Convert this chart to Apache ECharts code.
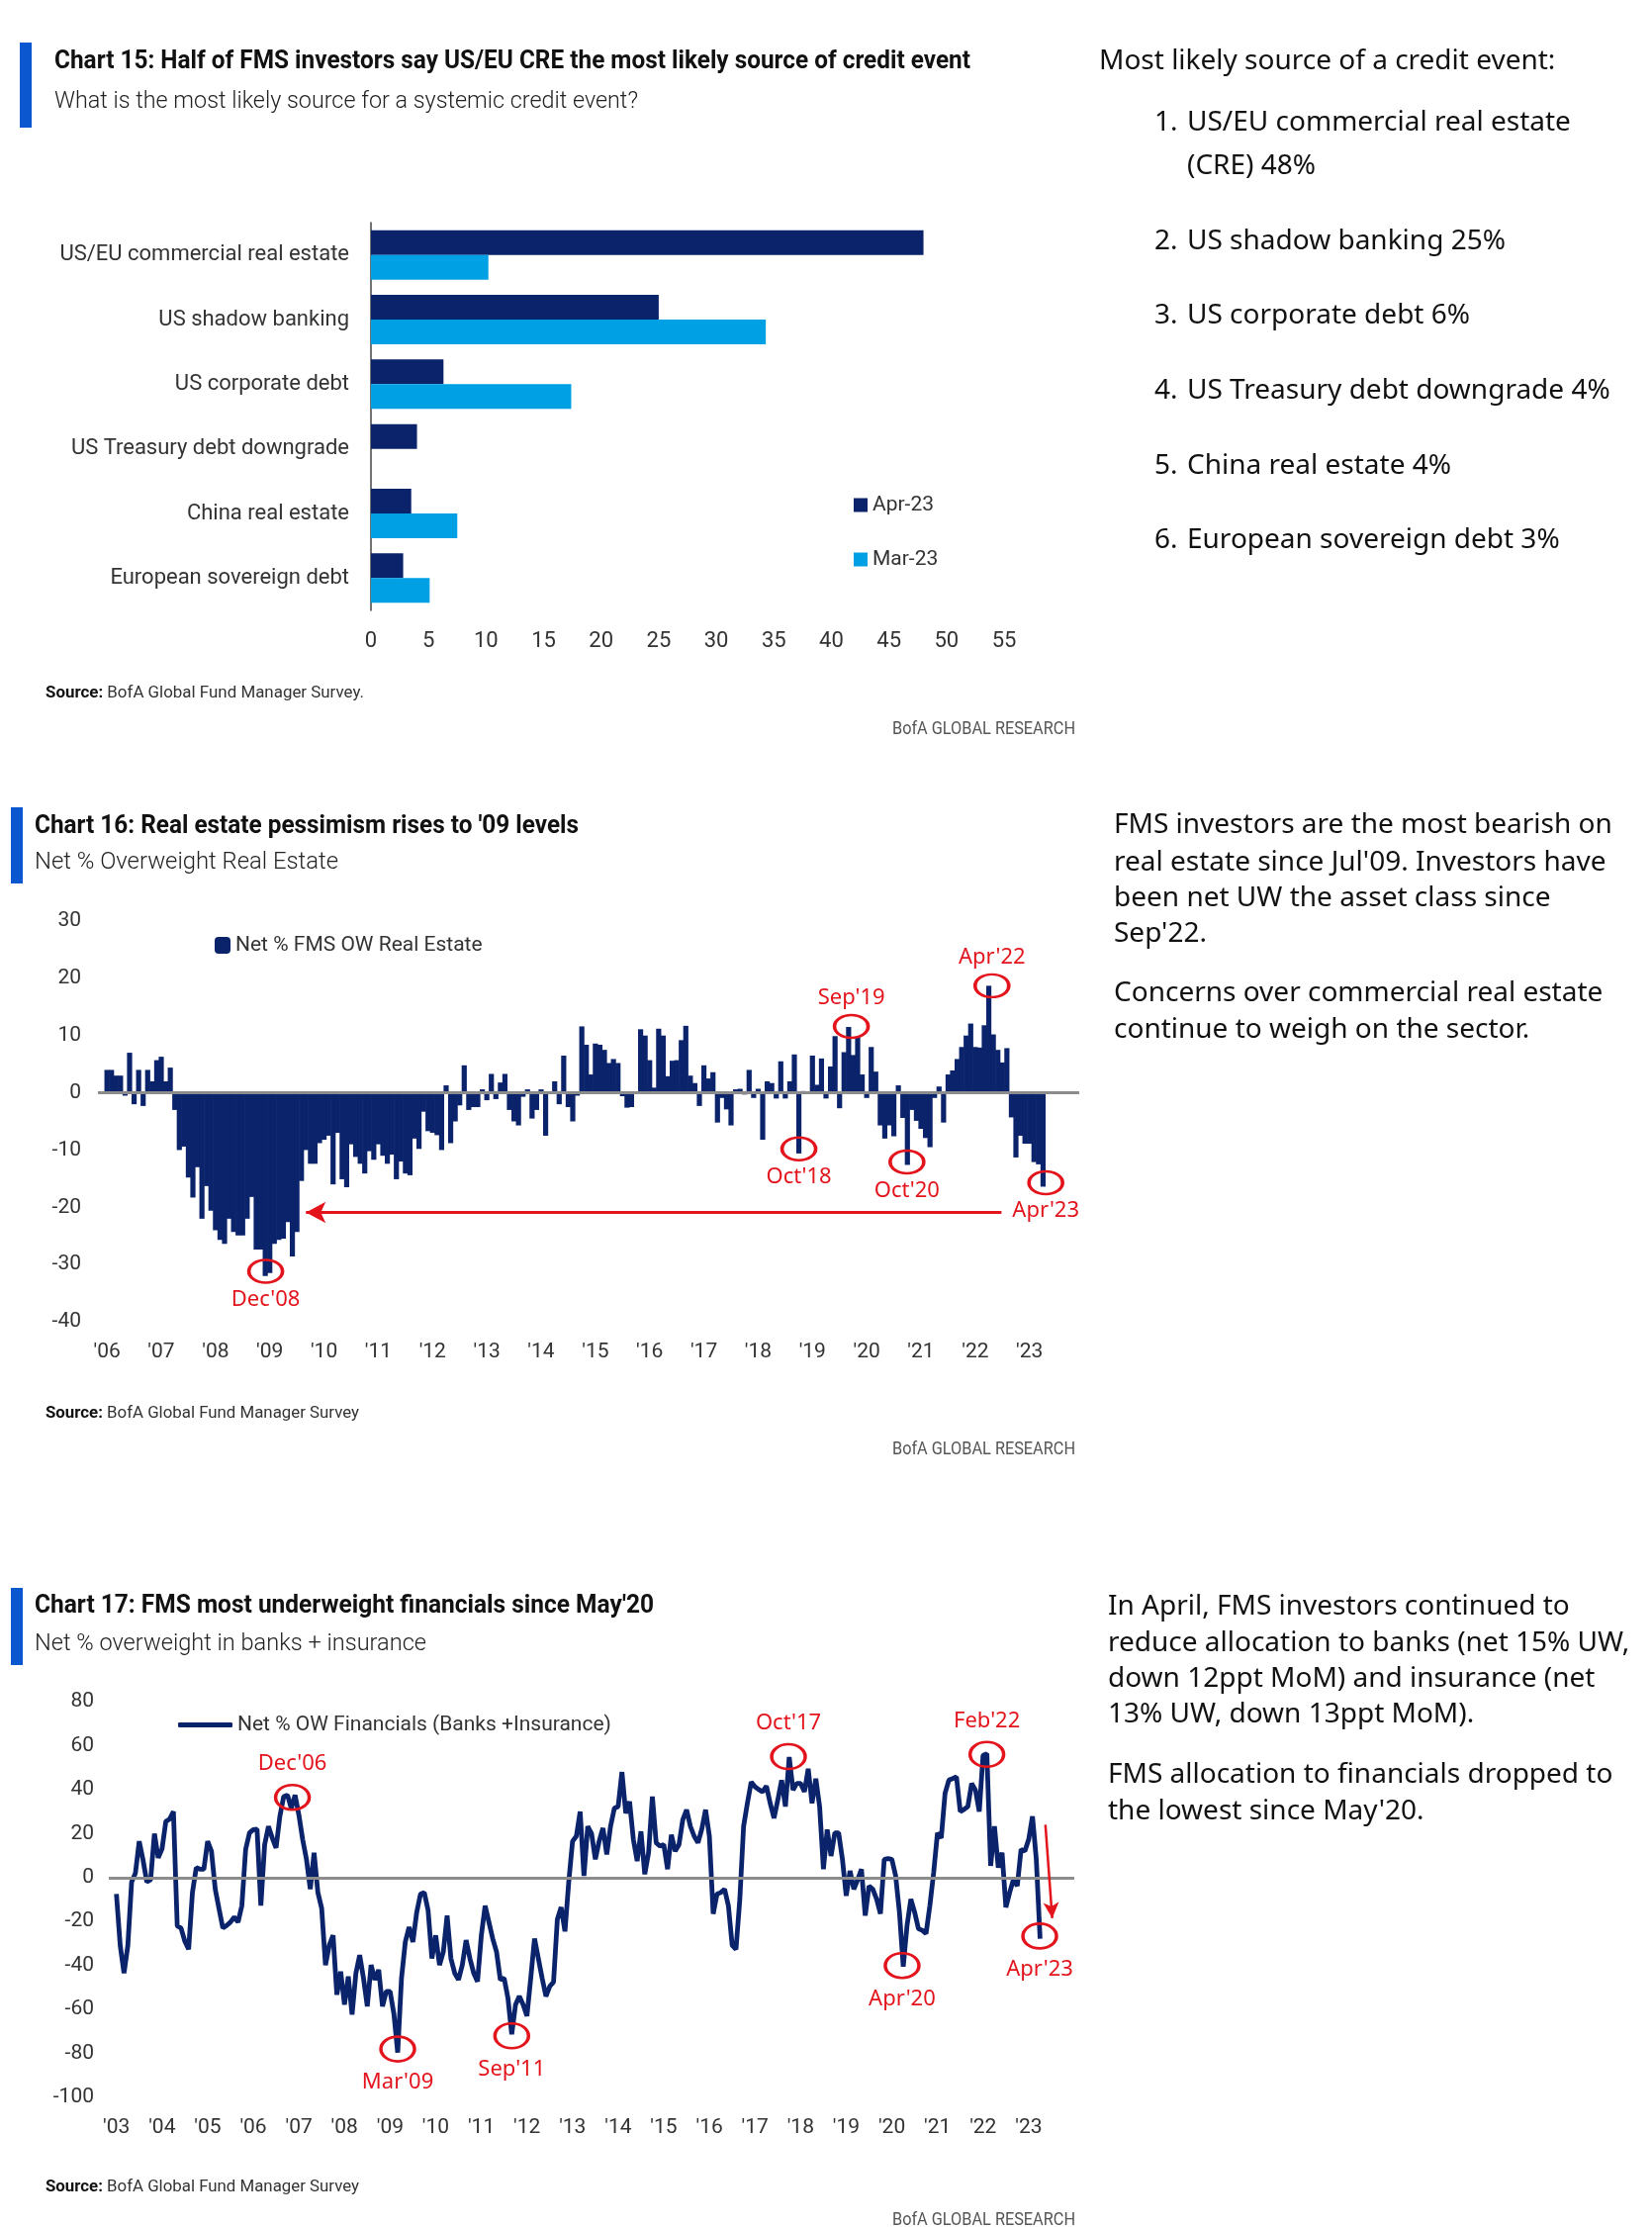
<!DOCTYPE html>
<html>
<head>
<meta charset="utf-8">
<script src="https://cdn.jsdelivr.net/npm/echarts@6/dist/echarts.min.js"></script>
<style>
html,body{margin:0;padding:0;background:#fff;}
#c{width:1670px;height:2251px;}
</style>
</head>
<body>
<div id="c"></div>
<script>
// ---------- DATA ----------
const C15_CATS = ['US/EU commercial real estate','US shadow banking','US corporate debt','US Treasury debt downgrade','China real estate','European sovereign debt'];
const C15_APR = [48, 25, 6.3, 4, 3.5, 2.8];
const C15_MAR = [10.2, 34.3, 17.4, null, 7.5, 5.1];
const C15_XMAX = 55;

// Chart 16: monthly, Jan 2006 .. Apr 2023
const C16_VALUES = [
 4,4,3,3,-0.5,7,-2,4,-2.3,4,2,5.7,
 6.3,2,4.4,-3,-10,-9.4,-14.8,-18.3,-13,-22,-16.3,-20.6,
 -24,-25.7,-26.4,-22,-24.3,-24.9,-24.9,-22,-18.2,-27.4,-27.4,-32,
 -31.5,-26.4,-25.7,-25.5,-22.6,-28.6,-24.3,-15.4,-10,-12.4,-12.4,-8.8,
 -8.2,-7.5,-16,-7,-15.1,-16.5,-9,-11.2,-12.4,-14.1,-10.2,-11.7,
 -9,-11,-12.4,-10.8,-15.1,-12,-14.1,-14.4,-8,-9.8,-3.3,-6.7,
 -7,-7.4,-10,1.3,-8.8,-5,-2.2,4.8,-3,-2.5,-2.5,0.6,
 -1.3,3.3,-1.1,1.8,3.3,-3,-5,-5.7,-0.7,0.6,-4.5,-3,
 0.6,-7.5,0,2,-2,6.5,-2.5,-5,-0.5,11.6,8.4,3.2,
 8.6,8.4,7.5,5.2,5.9,5.2,-0.6,-2.6,-2.5,0,11.1,10,
 5.7,0.9,11.2,10,2.9,5.6,5.7,9.2,11.7,3,1.7,-2.3,
 4.8,2.5,3.6,-5.2,-0.9,-2.9,-5.7,0.6,0.7,-0.3,4,-0.9,
 0.7,-8.2,2,1.7,-1,5.5,-1,2,6.7,-10.6,0.3,-0.2,
 6.5,1.4,6,-1,4.6,9.9,-2.7,7.1,11.5,6.6,9.8,3.2,
 -0.9,8,3.7,-5.7,-8,-5.7,-7.6,1.3,-4.4,-12.6,-3,-4.9,
 -6.3,-7.9,-9.5,-0.9,1.1,-5.2,3.2,3.9,5.9,8,10,12.1,
 8,7.9,11.8,18.7,10.2,7.5,5.3,7.8,-4.3,-11.3,-7.5,-8.9,
 -8.9,-12.1,-12.5,-16.4
];
const C16_TICK_LABELS = ["'06","'07","'08","'09","'10","'11","'12","'13","'14","'15","'16","'17","'18","'19","'20","'21","'22","'23"];

// Chart 17: monthly, Jan 2003 .. Apr 2023
const C17_VALUES = [
 -7.5,-31,-43.5,-31,-2,2,16.5,8,-2,-1,20,9,
 13,25.5,26.6,30,-22,-23,-29,-32.6,-6.8,4.5,3.8,3.8,
 16.5,12,-5.3,-14.3,-23,-21.8,-20.3,-18,-20.3,-12.8,12.8,20.3,
 21.8,22,-12.8,15,23.3,18,13.5,27.8,36.8,37.5,31.5,37.5,
 28.5,17.3,8.3,-5.3,11.3,-6.8,-14,-39.8,-30.8,-26.3,-53.3,-42.8,
 -57.8,-45,-62.3,-43.5,-35.3,-45.8,-58.6,-39.8,-46.5,-42,-58.6,-51.8,
 -51.8,-62,-79.6,-45.8,-29.3,-22.5,-29.3,-15.8,-7.5,-6.8,-15,-36.8,
 -26.3,-39.8,-33.8,-17.3,-36.8,-43.5,-46.5,-39.8,-28.5,-36.8,-43.5,-47.3,
 -26.3,-12.8,-20.3,-27.8,-33.8,-46.5,-45.8,-54.8,-71.3,-57.8,-54,-57.8,
 -63,-45.8,-27.8,-36.8,-45.8,-54,-49.5,-47.5,-19,-13.5,-24.5,-2,
 16.5,18.8,30,0.8,23.3,20,8.3,16.5,22.5,10.5,23.3,31.5,
 32.3,48,29.3,34.5,17.3,7.5,21,1.5,11.3,36.8,15.8,14.3,
 15,3.8,19.5,12,15,26.3,30.8,23.3,18.8,15.8,22,30.8,
 18.8,-16.5,-7.5,-6.8,-5.3,-12.8,-30.8,-32.6,-10,23.3,33.8,43.5,
 41.3,40,39,41.6,33.8,27,35.3,44.3,32.3,54.8,39.8,42.8,
 42.8,39,49.5,33.8,45,32.3,3.8,21.8,9.8,20.3,20.3,8.3,
 -8.3,3,-5.3,-1,3.8,-17.3,-3.8,-5.3,-9.8,-16.5,8.3,8.6,
 8.3,0.8,-15.8,-40.5,-21.8,-9.8,-15.8,-23.3,-24,-25.5,-12.8,2.3,
 20.3,18,38.3,44.3,45,45.8,30,31,32.3,42.8,39.8,30,
 55.6,56.3,5.3,23.3,4.5,11.3,-13.5,-6.8,-0.8,-3.8,12.8,12,
 17.3,27.8,8.3,-27.8
];
const C17_TICK_LABELS = ["'03","'04","'05","'06","'07","'08","'09","'10","'11","'12","'13","'14","'15","'16","'17","'18","'19","'20","'21","'22","'23"];

// Annotations: [label, monthIndex, value, labelPosition]
const C16_NOTES = [["Dec'08",35.1,-31.2,'bottom'],["Oct'18",153,-9.8,'bottom'],["Sep'19",164.6,11.6,'top'],["Oct'20",176.9,-12.1,'bottom'],["Apr'22",195.7,18.7,'top'],["Apr'23",207.6,-15.7,'bottom']];
const C17_NOTES = [["Dec'06",46.3,36.5,'top'],["Mar'09",74,-78,'bottom'],["Sep'11",104,-72,'bottom'],["Oct'17",176.8,55,'top'],["Apr'20",206.7,-40,'bottom'],["Feb'22",229,56,'top'],["Apr'23",242.9,-26.6,'bottom']];

// ---------- STYLE ----------
const NARROW = "Roboto, 'Liberation Sans', sans-serif";
const BODY = "'Noto Sans','Open Sans',sans-serif";
const NAVY = '#0a236b', LIGHT = '#00a1e4', RED = '#e3141c', ACCENT = '#0b57d0';

const mctx = document.createElement('canvas').getContext('2d');
function measure(text, font) { mctx.font = font; return mctx.measureText(text).width; }

function T(x, y, text, font, fill, align) {
  return {type:'text', x:x, y:y, silent:true,
    style:{text:text, font:font, fill:fill || '#111', align:align || 'left', verticalAlign:'middle'}};
}
// text squeezed horizontally to the width it takes in the reference (condensed face)
function FIT(x, y, text, font, fill, target, align) {
  const el = T(x, y, text, font, fill, align);
  el.scaleX = target / measure(text, font);
  return el;
}
function SRC(x, y, rest, target) {
  const bf = 'bold 17px ' + NARROW, nf = '17px ' + NARROW;
  const w = measure('Source:', bf) + measure(' ' + rest, nf);
  return {type:'text', x:x, y:y, silent:true, scaleX: target / w, style:{
    text:'{b|Source:}{n| ' + rest + '}', verticalAlign:'middle', align:'left',
    rich:{b:{fontFamily:NARROW, fontWeight:'bold', fontSize:17, fill:'#111'},
          n:{fontFamily:NARROW, fontSize:17, fill:'#333'}}}};
}

const TF = 'bold 25px ' + NARROW, SF = '300 23px ' + NARROW, BF = '18px ' + NARROW;
const RF = '28px ' + BODY;

const graphics = [
  {type:'rect', shape:{x:20, y:43, width:12, height:86}, style:{fill:ACCENT}, silent:true},
  FIT(55, 63, 'Chart 15: Half of FMS investors say US/EU CRE the most likely source of credit event', TF, '#111', 926),
  FIT(55, 103, 'What is the most likely source for a systemic credit event?', SF, '#222', 590),
  SRC(46, 701, 'BofA Global Fund Manager Survey.', 322),
  FIT(1087, 737, 'BofA GLOBAL RESEARCH', BF, '#555', 185, 'right'),

  T(1111, 62, 'Most likely source of a credit event:', RF),
  T(1167, 124, '1.', RF), T(1200, 124, 'US/EU commercial real estate', RF),
  T(1200, 168, '(CRE) 48%', RF),
  T(1167, 244, '2.', RF), T(1200, 244, 'US shadow banking 25%', RF),
  T(1167, 319, '3.', RF), T(1200, 319, 'US corporate debt 6%', RF),
  T(1167, 395, '4.', RF), T(1200, 395, 'US Treasury debt downgrade 4%', RF),
  T(1167, 471, '5.', RF), T(1200, 471, 'China real estate 4%', RF),
  T(1167, 546, '6.', RF), T(1200, 546, 'European sovereign debt 3%', RF),

  {type:'rect', shape:{x:11, y:816, width:12, height:77}, style:{fill:ACCENT}, silent:true},
  FIT(35, 836, "Chart 16: Real estate pessimism rises to '09 levels", TF, '#111', 550),
  FIT(35, 872, 'Net % Overweight Real Estate', SF, '#222', 307),
  SRC(46, 1429, 'BofA Global Fund Manager Survey', 317),
  FIT(1087, 1465, 'BofA GLOBAL RESEARCH', BF, '#555', 185, 'right'),
  T(1126, 834, 'FMS investors are the most bearish on', RF),
  T(1126, 872, "real estate since Jul'09. Investors have", RF),
  T(1126, 908, 'been net UW the asset class since', RF),
  T(1126, 944, "Sep'22.", RF),
  T(1126, 1004, 'Concerns over commercial real estate', RF),
  T(1126, 1041, 'continue to weigh on the sector.', RF),

  {type:'rect', shape:{x:11, y:1605, width:12, height:78}, style:{fill:ACCENT}, silent:true},
  FIT(35, 1624, "Chart 17: FMS most underweight financials since May'20", TF, '#111', 626),
  FIT(35, 1662, 'Net % overweight in banks + insurance', SF, '#222', 396),
  SRC(46, 2211, 'BofA Global Fund Manager Survey', 317),
  FIT(1087, 2244, 'BofA GLOBAL RESEARCH', BF, '#555', 185, 'right'),
  T(1120, 1624, 'In April, FMS investors continued to', RF),
  T(1120, 1661, 'reduce allocation to banks (net 15% UW,', RF),
  T(1120, 1697, 'down 12ppt MoM) and insurance (net', RF),
  T(1120, 1733, '13% UW, down 13ppt MoM).', RF),
  T(1120, 1794, 'FMS allocation to financials dropped to', RF),
  T(1120, 1831, "the lowest since May'20.", RF)
];

function notePoints(notes, dist) {
  return notes.map(n => ({name:n[0], coord:[n[1], n[2]],
    label:{position:n[3], distance:dist}}));
}
const markPointBase = (notes, size, dist) => ({
  symbol:'circle', symbolSize:size, silent:true,
  itemStyle:{color:'rgba(0,0,0,0)', borderColor:RED, borderWidth:3},
  label:{show:true, formatter:p => p.name, color:RED, fontSize:22, fontFamily:BODY},
  data:notePoints(notes, dist)
});

const axisLbl = {color:'#333', fontSize:21, fontFamily:NARROW};

const option = {
  animation:false,
  backgroundColor:'#fff',
  textStyle:{fontFamily:NARROW},
  grid:[
    {left:375, top:225, width:640, height:392},
    {left:99, top:931, width:992, height:405},
    {left:110, top:1720, width:976, height:400}
  ],
  xAxis:[
    {gridIndex:0, type:'value', min:0, max:C15_XMAX, interval:5,
     axisLine:{show:false}, axisTick:{show:false}, splitLine:{show:false},
     axisLabel:{margin:20, fontSize:22, color:'#333', fontFamily:NARROW}},
    {gridIndex:1, type:'value', min:-2, max:215,
     axisLine:{show:false}, axisTick:{show:false}, splitLine:{show:false},
     axisLabel:Object.assign({margin:20, customValues:C16_TICK_LABELS.map((_, i) => i * 12),
       formatter:v => C16_TICK_LABELS[Math.round(v / 12)] || ''}, axisLbl)},
    {gridIndex:2, type:'value', min:-2, max:252,
     axisLine:{show:false}, axisTick:{show:false}, splitLine:{show:false},
     axisLabel:Object.assign({margin:20, customValues:C17_TICK_LABELS.map((_, i) => i * 12),
       formatter:v => C17_TICK_LABELS[Math.round(v / 12)] || ''}, axisLbl)}
  ],
  yAxis:[
    {gridIndex:0, type:'category', inverse:true, data:C15_CATS,
     axisLine:{show:true, lineStyle:{color:'#444', width:1.5}}, axisTick:{show:false},
     axisLabel:{color:'#333', fontSize:22, fontFamily:NARROW, margin:22}},
    {gridIndex:1, type:'value', min:-40, max:30, interval:10,
     axisLine:{show:false}, axisTick:{show:false}, splitLine:{show:false},
     axisLabel:Object.assign({margin:17}, axisLbl)},
    {gridIndex:2, type:'value', min:-100, max:80, interval:20,
     axisLine:{show:false}, axisTick:{show:false}, splitLine:{show:false},
     axisLabel:Object.assign({margin:15}, axisLbl)}
  ],
  legend:[
    {data:['Apr-23','Mar-23'], orient:'vertical', left:858, top:495, itemGap:34,
     itemWidth:14, itemHeight:14, icon:'rect',
     textStyle:{fontSize:21, color:'#333', fontFamily:NARROW}},
    {data:['Net % FMS OW Real Estate'], left:212, top:940, icon:'roundRect',
     itemWidth:16, itemHeight:17, textStyle:{fontSize:21, color:'#333', fontFamily:NARROW}},
    {data:['Net % OW Financials (Banks +Insurance)'], left:175, top:1728, icon:'roundRect',
     itemWidth:55, itemHeight:5, textStyle:{fontSize:21, color:'#333', fontFamily:NARROW}}
  ],
  series:[
    {name:'Apr-23', type:'bar', xAxisIndex:0, yAxisIndex:0, data:C15_APR,
     barWidth:25, barGap:'0%', itemStyle:{color:NAVY}},
    {name:'Mar-23', type:'bar', xAxisIndex:0, yAxisIndex:0, data:C15_MAR,
     barWidth:25, barGap:'0%', itemStyle:{color:LIGHT}},
    {name:'Net % FMS OW Real Estate', type:'bar', xAxisIndex:1, yAxisIndex:1,
     data:C16_VALUES.map((v, i) => [i, v]), barWidth:5.2, itemStyle:{color:NAVY},
     markLine:{silent:true, symbol:['none','none'], label:{show:false},
       data:[
         {yAxis:0, lineStyle:{color:'#8c8c8c', width:3, type:'solid'}},
         [{coord:[197.8, -20.9], symbol:'none'},
          {coord:[44, -20.9], symbol:'arrow', symbolSize:[16, 20],
           lineStyle:{color:RED, width:3, type:'solid'}}]
       ]},
     markPoint:markPointBase(C16_NOTES, [34, 23], 5)},
    {name:'Net % OW Financials (Banks +Insurance)', type:'line', xAxisIndex:2, yAxisIndex:2,
     data:C17_VALUES.map((v, i) => [i, v]), symbol:'none', showSymbol:false,
     lineStyle:{color:NAVY, width:4.8}, itemStyle:{color:NAVY},
     markLine:{silent:true, symbol:['none','none'], label:{show:false},
       data:[
         {yAxis:0, lineStyle:{color:'#8c8c8c', width:3, type:'solid'}},
         [{coord:[244.4, 24], symbol:'none'},
          {coord:[246.2, -18.5], symbol:'arrow', symbolSize:[12, 16],
           lineStyle:{color:RED, width:2.5, type:'solid'}}]
       ]},
     markPoint:markPointBase(C17_NOTES, [34, 25], 9)}
  ],
  graphic:graphics
};

const chart = echarts.init(document.getElementById('c'), null, {renderer:'canvas'});
chart.setOption(option);
</script>
</body>
</html>
